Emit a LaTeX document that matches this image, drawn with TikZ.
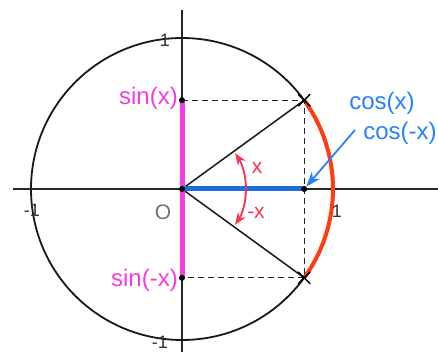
\documentclass[tikz,border=0pt]{standalone}
\usepackage{fontspec}
\setmainfont{Liberation Sans}
\usetikzlibrary{arrows.meta}
\definecolor{mag}{RGB}{245,60,225}
\definecolor{cosblue}{RGB}{30,110,220}
\definecolor{arcred}{RGB}{255,60,20}
\definecolor{angred}{RGB}{250,50,80}
\definecolor{lblblue}{RGB}{40,130,255}
\tikzset{
  axis/.style={line width=1.5pt, black!85},
  dashln/.style={dashed, dash pattern=on 6pt off 4pt, line width=1.3pt, black!85},
  dotpt/.style={circle, fill=black, inner sep=0pt, minimum size=6pt},
  numlbl/.style={font=\fontsize{18}{18}\selectfont, text=black!80},
  maglbl/.style={font=\fontsize{24}{24}\selectfont, text=mag, inner sep=1pt},
  bluelbl/.style={font=\fontsize{24}{24}\selectfont, text=lblblue, inner sep=0pt},
  redlbl/.style={font=\fontsize{21}{21}\selectfont, text=angred, inner sep=0pt},
}
\begin{document}
\begin{tikzpicture}[x=1pt,y=1pt]
\useasboundingbox (-182,-163) rectangle (256,189);
\fill[white] (-182,-163) rectangle (256,189);
% named points
\coordinate (O) at (0,0);
\coordinate (P) at (122.2,88.8);
\coordinate (Q) at (122.2,-88.8);
\coordinate (S) at (0,88.8);
\coordinate (Sm) at (0,-88.8);
\coordinate (C) at (122.2,0);
\coordinate (xl) at (-169,0);
\coordinate (xr) at (256,0);
\coordinate (yb) at (0,-163);
\coordinate (yt) at (0,179);
\coordinate (bstart) at (173,59);
% axes
\draw[axis] (xl) -- (xr);
\draw[axis] (yb) -- (yt);
% circle
\draw[line width=1.8pt, black!90] (O) circle[radius=151];
% red arc
\draw[arcred, line width=4pt] (O) ++(-36:151) arc[start angle=-36, end angle=36, radius=151];
% dashed
\draw[dashln] (S) -- (P) -- (Q) -- (Sm);
% radii
\draw[line width=1.5pt, black!90] (P) -- (O) -- (Q);
% magenta segment
\draw[mag, line width=5pt] (S) -- (Sm);
% blue segment
\draw[cosblue, line width=5pt] (O) -- (C);
% crosses
\foreach \p in {P,Q}{
  \draw[line width=1.5pt] (\p) ++(-6,-6) -- ++(12,12);
  \draw[line width=1.5pt] (\p) ++(-6,6) -- ++(12,-12);
}
% dots
\node[dotpt] (dS) at (S) {};
\node[dotpt] (dSm) at (Sm) {};
\node[dotpt] (dC) at (C) {};
\node[dotpt] (dO) at (O) {};
% angle arcs
\draw[angred, line width=1.8pt, -{Stealth[length=12pt,width=9pt]}] (O) ++(0:64) arc[start angle=0, end angle=34, radius=64];
\draw[angred, line width=1.8pt, -{Stealth[length=12pt,width=9pt]}] (O) ++(0:64) arc[start angle=0, end angle=-34, radius=64];
% blue arrow
\draw[lblblue, line width=1.8pt, -{Stealth[length=15pt,width=11pt]}] (bstart) -- (dC);
% labels
\node[numlbl] (one) at (-17,149) {1};
\node[numlbl] (mone) at (-150,-21) {-1};
\node[numlbl] (onep) at (155,-22) {1};
\node[numlbl] (monep) at (-22,-153) {-1};
\node[font=\fontsize{21}{21}\selectfont, text=black!55] (Olbl) at (-19,-23) {O};
\node[maglbl, anchor=east] (sinx) at (-3,91) {sin(x)};
\node[maglbl, anchor=east] (sinmx) at (-3,-91) {sin(-x)};
\node[bluelbl] (cosx) at (200,86) {cos(x)};
\node[bluelbl] (cosmx) at (218,56) {cos(-x)};
\node[redlbl] (xlbl) at (75,21) {x};
\node[redlbl] (mxlbl) at (74,-24) {-x};
\end{tikzpicture}
\end{document}
